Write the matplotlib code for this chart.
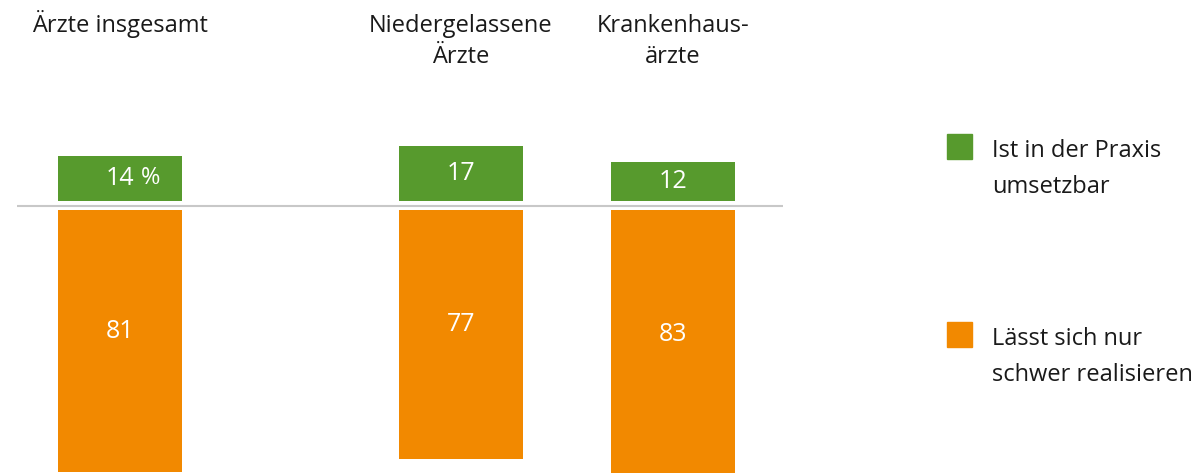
import matplotlib
matplotlib.use('Agg')
import matplotlib.pyplot as plt
from matplotlib.patches import Rectangle

categories = ['Ärzte insgesamt', 'Niedergelassene\nÄrzte', 'Krankenhaus-\närzte']
umsetzbar = [14, 17, 12]
schwer = [81, 77, 83]
series_labels = ['Ist in der Praxis\numsetzbar', 'Lässt sich nur\nschwer realisieren']

plt.rcParams['font.family'] = ['Open Sans', 'DejaVu Sans']

W, H = 1196, 473
fig = plt.figure(figsize=(W / 100, H / 100), dpi=100)
ax = fig.add_axes([0, 0, 1, 1])
scale = 3.23          # pixels per percentage point
base_px = 206         # baseline position from top (px)
ax.set_xlim(0, W)
ax.set_ylim((base_px - H) / scale, base_px / scale)
ax.axis('off')

centers = [120, 461, 673]
width = 124
green = '#579a2d'
orange = '#f28900'
txt = '#1a1a1a'
gap_g = 5 / scale
gap_o = 4 / scale

ax.bar(centers, umsetzbar, width=width, bottom=gap_g, color=green)
ax.bar(centers, [-v for v in schwer], width=width, bottom=-gap_o, color=orange)
ax.plot([17, 783], [0, 0], color='#c8c8c8', lw=1.5, solid_capstyle='butt')

for i, (c, v) in enumerate(zip(centers, umsetzbar)):
    y = gap_g + v / 2
    ax.text(c, y, str(v), ha='center', va='center', color='white', fontsize=18)
    if i == 0:
        ax.annotate('%', xy=(c, y), xytext=(31, 0), textcoords='offset pixels',
                    ha='center', va='center', color='white', fontsize=17)

for c, v in zip(centers, schwer):
    y = -(gap_o + v / 2) + 3
    ax.text(c, y, str(v), ha='center', va='center', color='white', fontsize=18)

def fy(px):
    return 1 - px / H

# category titles
for c, cat in zip(centers, categories):
    for j, line in enumerate(cat.split('\n')):
        fig.text(c / W, fy(32 + 31 * j), line, ha='center', va='baseline',
                 fontsize=17, color=txt)

# legend
leg_cols = [green, orange]
leg_top = [134, 322]
for col, top, lab in zip(leg_cols, leg_top, series_labels):
    fig.patches.append(Rectangle((947 / W, fy(top + 25)), 25 / W, 25 / H,
                                 transform=fig.transFigure, color=col))
    for j, line in enumerate(lab.split('\n')):
        fig.text(992 / W, fy(top + 23 + 36 * j), line, ha='left', va='baseline',
                 fontsize=17, color=txt)

fig.savefig('out.png', dpi=100)
